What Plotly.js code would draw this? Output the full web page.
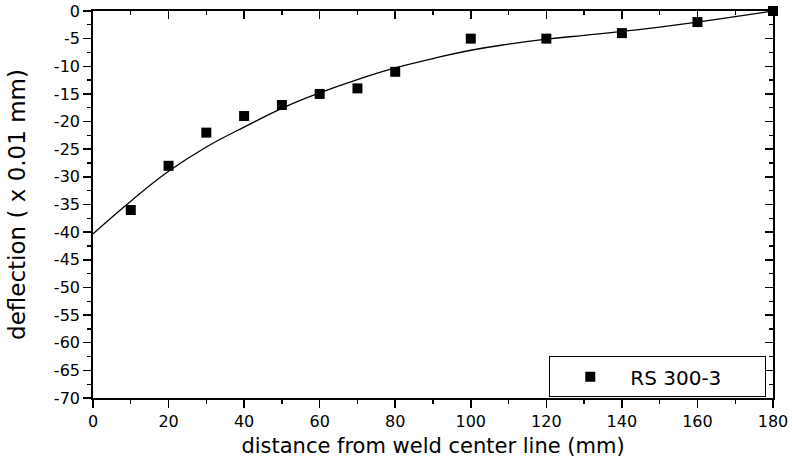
<!DOCTYPE html>
<html>
<head>
<meta charset="utf-8">
<script src="https://cdn.plot.ly/plotly-3.0.1.min.js"></script>
<style>
  html, body { margin: 0; padding: 0; background: #fff; }
  #chart { width: 792px; height: 467px; }
</style>
</head>
<body>
<div id="chart"></div>
<script>
// Measured deflection of specimen RS 300-3
const distance = [10, 20, 30, 40, 50, 60, 70, 80, 100, 120, 140, 160, 180];
const deflection = [-36, -28, -22, -19, -17, -15, -14, -11, -5, -5, -4, -2, 0];

// Fitted curve through the measurements
const fitDistance = [0, 10, 20, 30, 40, 50, 60, 70, 80, 90, 100, 110, 120, 130, 140, 150, 160, 170, 180];
const fitDeflection = [-40.3, -34.4, -29.0, -24.6, -21.0, -17.6, -14.8, -12.4, -10.3, -8.6, -7.1, -6.0, -5.1, -4.4, -3.7, -2.9, -2.0, -1.0, 0];

// Axis ticks and labels
const xTickVals = [0, 20, 40, 60, 80, 100, 120, 140, 160, 180];
const yTickVals = [0, -5, -10, -15, -20, -25, -30, -35, -40, -45, -50, -55, -60, -65, -70];
const yTickText = ['0', '-5', '-10', '-15', '-20', '-25', '-30', '-35', '-40', '-45', '-50', '-55', '-60', '-65', '-70'];

const seriesName = 'RS 300-3';
const xTitle = 'distance from weld center line (mm)';
const yTitle = 'deflection ( x 0.01 mm)';

const fam = '"DejaVu Sans", Arial, sans-serif';
const f = (size) => ({ family: fam, size: size, color: '#000' });

// trailing padding keeps the legend box as wide as the original frame
const legendPad = '\u00a0'.repeat(6);

const traces = [
  {
    x: fitDistance, y: fitDeflection,
    mode: 'lines', type: 'scatter',
    line: { color: '#000', width: 1.3, shape: 'spline', smoothing: 1.3 },
    showlegend: false, hoverinfo: 'skip'
  },
  {
    x: distance, y: deflection,
    mode: 'markers', type: 'scatter', name: seriesName + legendPad,
    marker: { symbol: 'square', size: 10, color: '#000' },
    cliponaxis: false
  },
  {
    // carries the mirrored top / right axes
    x: [], y: [], xaxis: 'x2', yaxis: 'y2',
    type: 'scatter', mode: 'markers', showlegend: false, hoverinfo: 'skip'
  }
];

const axisCommon = {
  showgrid: false, zeroline: false,
  showline: true, linecolor: '#000', linewidth: 1.8,
  tickcolor: '#000', tickwidth: 1.5, ticklen: 8
};
const minorOut = { ticks: 'outside', ticklen: 4, tickcolor: '#000', tickwidth: 1.3 };
const minorIn = { ticks: 'inside', ticklen: 4, tickcolor: '#000', tickwidth: 1.3 };

const layout = {
  width: 792, height: 467,
  margin: { l: 93, r: 19, t: 11, b: 69 },
  paper_bgcolor: '#fff', plot_bgcolor: '#fff',
  font: f(16),
  xaxis: Object.assign({}, axisCommon, {
    range: [0, 180], tickmode: 'array', tickvals: xTickVals,
    ticks: 'outside', ticklabelstandoff: 0,
    minor: Object.assign({ dtick: 10, tick0: 0 }, minorOut),
    tickfont: f(16),
    title: { text: xTitle, font: f(21), standoff: 8 }
  }),
  yaxis: Object.assign({}, axisCommon, {
    range: [-70, 0], tickmode: 'array', tickvals: yTickVals, ticktext: yTickText,
    ticks: 'outside',
    minor: Object.assign({ dtick: 2.5, tick0: 0 }, minorOut),
    tickfont: f(16),
    title: { text: yTitle, font: f(23), standoff: 22 }
  }),
  xaxis2: Object.assign({}, axisCommon, {
    overlaying: 'x', side: 'top', anchor: 'y2',
    range: [0, 180], tickmode: 'array', tickvals: xTickVals,
    ticks: 'inside', showticklabels: false,
    minor: Object.assign({ dtick: 10, tick0: 0 }, minorIn)
  }),
  yaxis2: Object.assign({}, axisCommon, {
    overlaying: 'y', side: 'right', anchor: 'x2',
    range: [-70, 0], tickmode: 'array', tickvals: yTickVals,
    ticks: 'inside', showticklabels: false,
    minor: Object.assign({ dtick: 2.5, tick0: 0 }, minorIn)
  }),
  legend: {
    x: 0.671, y: 0.108, xanchor: 'left', yanchor: 'top',
    bgcolor: '#fff', bordercolor: '#000', borderwidth: 1,
    font: f(20),
    itemwidth: 70
  }
};

Plotly.newPlot('chart', traces, layout, { displayModeBar: false, staticPlot: true });
</script>
</body>
</html>
